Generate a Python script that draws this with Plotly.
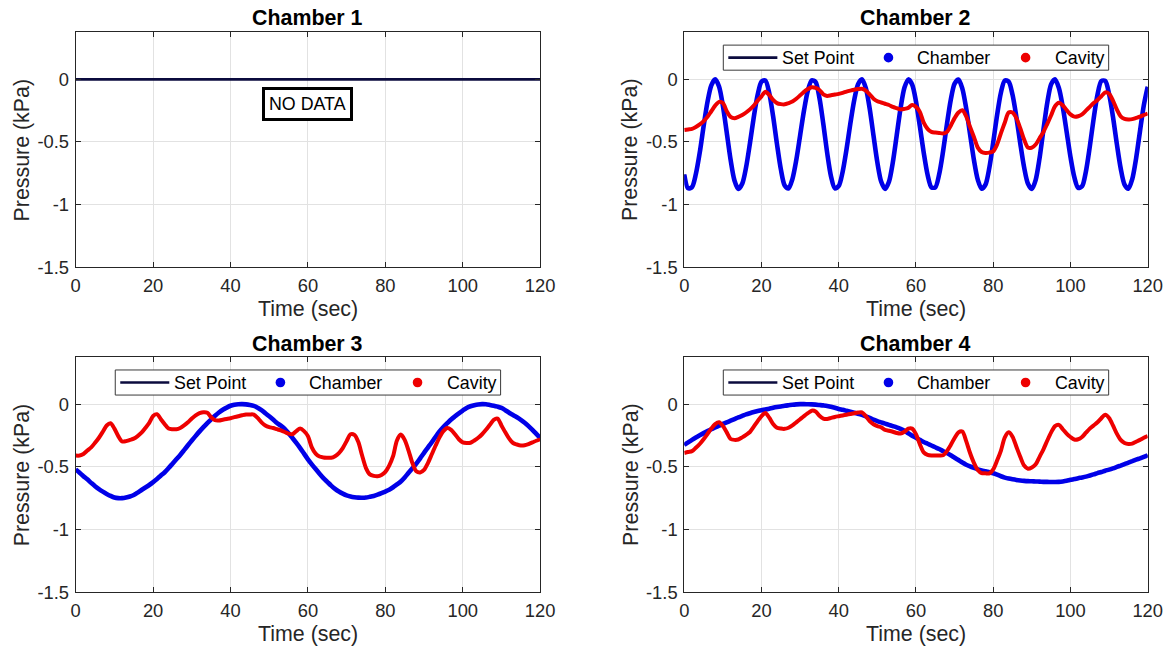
import plotly.graph_objects as go

# ---------------------------------------------------------------- data
time_s = list(range(0, 121))  # sample times, 1 s apart

ch1_time = [0, 120]
ch1_set = [0.0, 0.0]

ch2_set = [
    -0.76, -0.87, -0.86, -0.756, -0.586, -0.376, -0.182, -0.048, 0.0, -0.057,
    -0.212, -0.426, -0.643, -0.807, -0.875, -0.834, -0.703, -0.511, -0.302, -0.124,
    -0.018, -0.009, -0.109, -0.294, -0.516, -0.717, -0.847, -0.871, -0.796, -0.645,
    -0.447, -0.249, -0.091, -0.008, -0.021, -0.149, -0.356, -0.586, -0.775, -0.87,
    -0.851, -0.739, -0.561, -0.354, -0.167, -0.039, 0.0, -0.069, -0.232, -0.449,
    -0.663, -0.818, -0.875, -0.818, -0.663, -0.449, -0.232, -0.068, -0.001, -0.042,
    -0.177, -0.374, -0.585, -0.762, -0.862, -0.862, -0.758, -0.577, -0.361, -0.165,
    -0.035, -0.002, -0.074, -0.232, -0.438, -0.643, -0.801, -0.873, -0.84, -0.705,
    -0.503, -0.286, -0.105, -0.009, -0.018, -0.124, -0.302, -0.511, -0.703, -0.834,
    -0.875, -0.802, -0.629, -0.403, -0.186, -0.039, 0.0, -0.07, -0.219, -0.417,
    -0.619, -0.781, -0.867, -0.854, -0.735, -0.538, -0.315, -0.124, -0.014, -0.013,
    -0.117, -0.298, -0.514, -0.71, -0.84, -0.873, -0.796, -0.63, -0.415, -0.206,
    -0.06,
]
ch2_cavity = [
    -0.405, -0.40, -0.395, -0.38, -0.36, -0.335, -0.30, -0.255, -0.21, -0.18,
    -0.19, -0.255, -0.30, -0.31, -0.30, -0.285, -0.265, -0.24, -0.21, -0.17,
    -0.136, -0.10, -0.125, -0.165, -0.19, -0.198, -0.20, -0.19, -0.178, -0.155,
    -0.128, -0.10, -0.078, -0.063, -0.068, -0.085, -0.12, -0.133, -0.128, -0.122,
    -0.116, -0.108, -0.098, -0.09, -0.083, -0.078, -0.075, -0.09, -0.12, -0.155,
    -0.175, -0.185, -0.195, -0.205, -0.22, -0.23, -0.24, -0.236, -0.228, -0.205,
    -0.22, -0.26, -0.345, -0.395, -0.42, -0.425, -0.428, -0.432, -0.42, -0.37,
    -0.31, -0.265, -0.247, -0.295, -0.38, -0.46, -0.545, -0.58, -0.588, -0.585,
    -0.575, -0.52, -0.43, -0.345, -0.265, -0.265, -0.31, -0.39, -0.48, -0.545,
    -0.545, -0.52, -0.47, -0.42, -0.355, -0.287, -0.215, -0.188, -0.208, -0.245,
    -0.28, -0.298, -0.295, -0.28, -0.25, -0.22, -0.19, -0.165, -0.135, -0.105,
    -0.115, -0.17, -0.24, -0.295, -0.315, -0.32, -0.318, -0.308, -0.298, -0.285,
    -0.273,
]

ch3_set = [
    -0.521, -0.547, -0.575, -0.60, -0.628, -0.655, -0.678, -0.698, -0.716, -0.732,
    -0.745, -0.75, -0.75, -0.745, -0.737, -0.725, -0.706, -0.685, -0.665, -0.645,
    -0.622, -0.597, -0.57, -0.543, -0.51, -0.475, -0.44, -0.405, -0.367, -0.328,
    -0.29, -0.253, -0.217, -0.183, -0.151, -0.121, -0.093, -0.067, -0.045, -0.028,
    -0.013, -0.005, -0.001, 0.0, -0.002, -0.007, -0.014, -0.028, -0.048, -0.072,
    -0.097, -0.123, -0.15, -0.172, -0.197, -0.232, -0.27, -0.309, -0.35, -0.395,
    -0.44, -0.48, -0.518, -0.555, -0.59, -0.62, -0.65, -0.676, -0.697, -0.714,
    -0.728, -0.736, -0.742, -0.746, -0.747, -0.745, -0.739, -0.732, -0.722, -0.71,
    -0.697, -0.683, -0.663, -0.64, -0.617, -0.585, -0.548, -0.512, -0.475, -0.432,
    -0.388, -0.346, -0.304, -0.26, -0.218, -0.183, -0.152, -0.122, -0.097, -0.073,
    -0.051, -0.03, -0.017, -0.008, -0.002, 0.0, -0.001, -0.006, -0.012, -0.02,
    -0.03, -0.048, -0.068, -0.087, -0.105, -0.125, -0.148, -0.175, -0.205, -0.237,
    -0.27,
]
ch3_cavity = [
    -0.41, -0.41, -0.398, -0.37, -0.345, -0.308, -0.268, -0.22, -0.17, -0.152,
    -0.195, -0.255, -0.298, -0.295, -0.285, -0.275, -0.255, -0.228, -0.19, -0.149,
    -0.095, -0.08, -0.12, -0.16, -0.195, -0.20, -0.20, -0.19, -0.17, -0.145,
    -0.115, -0.09, -0.072, -0.064, -0.068, -0.105, -0.128, -0.13, -0.124, -0.118,
    -0.112, -0.104, -0.096, -0.088, -0.082, -0.082, -0.083, -0.11, -0.145, -0.17,
    -0.183, -0.19, -0.20, -0.21, -0.222, -0.235, -0.24, -0.215, -0.195, -0.215,
    -0.255, -0.345, -0.395, -0.418, -0.425, -0.427, -0.428, -0.415, -0.39, -0.35,
    -0.295, -0.24, -0.245, -0.30, -0.41, -0.51, -0.56, -0.572, -0.575, -0.565,
    -0.54, -0.49, -0.415, -0.29, -0.243, -0.285, -0.37, -0.47, -0.535, -0.545,
    -0.525, -0.47, -0.40, -0.33, -0.265, -0.215, -0.19, -0.205, -0.24, -0.28,
    -0.305, -0.31, -0.308, -0.29, -0.268, -0.24, -0.205, -0.165, -0.125, -0.115,
    -0.17, -0.225, -0.275, -0.31, -0.322, -0.33, -0.328, -0.318, -0.305, -0.292,
    -0.28,
]

ch4_set = [
    -0.325, -0.305, -0.285, -0.266, -0.248, -0.231, -0.215, -0.20, -0.186, -0.172,
    -0.158, -0.145, -0.132, -0.119, -0.106, -0.094, -0.082, -0.072, -0.063, -0.055,
    -0.048, -0.043, -0.036, -0.029, -0.023, -0.018, -0.013, -0.009, -0.005, -0.002,
    0.0, 0.0, -0.001, -0.002, -0.004, -0.007, -0.01, -0.014, -0.021, -0.029,
    -0.038, -0.045, -0.053, -0.061, -0.069, -0.077, -0.085, -0.097, -0.11, -0.124,
    -0.135, -0.145, -0.155, -0.165, -0.175, -0.185, -0.197, -0.212, -0.232, -0.252,
    -0.268, -0.285, -0.302, -0.316, -0.33, -0.344, -0.358, -0.374, -0.39, -0.408,
    -0.427, -0.446, -0.466, -0.483, -0.497, -0.509, -0.52, -0.529, -0.536, -0.544,
    -0.551, -0.562, -0.575, -0.586, -0.594, -0.60, -0.605, -0.609, -0.612, -0.614,
    -0.615, -0.617, -0.618, -0.62, -0.62, -0.621, -0.621, -0.62, -0.617, -0.612,
    -0.604, -0.598, -0.591, -0.585, -0.578, -0.569, -0.56, -0.55, -0.541, -0.531,
    -0.522, -0.512, -0.501, -0.49, -0.478, -0.466, -0.455, -0.443, -0.432, -0.42,
    -0.408,
]
ch4_cavity = [
    -0.39, -0.382, -0.375, -0.348, -0.318, -0.28, -0.238, -0.195, -0.16, -0.145,
    -0.175, -0.225, -0.278, -0.285, -0.282, -0.265, -0.245, -0.222, -0.18, -0.135,
    -0.095, -0.07, -0.108, -0.158, -0.188, -0.195, -0.197, -0.188, -0.17, -0.145,
    -0.12, -0.095, -0.072, -0.052, -0.058, -0.092, -0.115, -0.118, -0.11, -0.102,
    -0.096, -0.09, -0.084, -0.078, -0.072, -0.067, -0.065, -0.095, -0.135, -0.16,
    -0.175, -0.185, -0.205, -0.212, -0.22, -0.23, -0.234, -0.22, -0.196, -0.195,
    -0.24, -0.32, -0.385, -0.405, -0.41, -0.41, -0.41, -0.408, -0.375, -0.325,
    -0.27, -0.225, -0.218, -0.295, -0.39, -0.468, -0.525, -0.55, -0.552, -0.552,
    -0.52, -0.45, -0.37, -0.265, -0.225, -0.26, -0.34, -0.42, -0.49, -0.515,
    -0.505, -0.48, -0.42, -0.36, -0.29, -0.225, -0.175, -0.165, -0.20, -0.235,
    -0.262, -0.282, -0.28, -0.262, -0.228, -0.195, -0.17, -0.145, -0.112, -0.085,
    -0.11, -0.17, -0.235, -0.285, -0.31, -0.318, -0.315, -0.30, -0.285, -0.268,
    -0.254,
]

# the chamber pressure tracks its set point closely
ch2_chamber = ch2_set
ch3_chamber = ch3_set
ch4_chamber = ch4_set

titles = ["Chamber 1", "Chamber 2", "Chamber 3", "Chamber 4"]
x_ticks = [0, 20, 40, 60, 80, 100, 120]
y_ticks = [-1.5, -1, -0.5, 0]
y_tick_text = ["-1.5", "-1", "-0.5", "0"]
series_names = ["Set Point", "Chamber", "Cavity"]

# ---------------------------------------------------------------- style
W, H = 1170, 650
FONT = "Liberation Sans, Arial, Helvetica, sans-serif"
TXT = "#262626"
SET_C = "#0b0b3e"
CH_C = "#0000e8"
CAV_C = "#ee0000"

# page placement: on-screen pixel -> figure pixel
K = 0.982
OFF_X, OFF_Y = 5.35, 0.4


def fx(s):
    return (s - OFF_X) / K / W


def fy(s):
    return 1 - (s - OFF_Y) / K / H


def fs(size):
    return round(size / K, 2)


# subplot boxes in on-screen pixels: (left, right, top, bottom)
boxes = [(76, 540, 32.6, 267), (684, 1147, 32.6, 267),
         (76, 540, 356.6, 591), (684, 1147, 356.6, 591)]

fig = go.Figure()

axis_common = dict(
    showline=True, linecolor=TXT, linewidth=1, mirror="ticks",
    ticks="inside", ticklen=5, tickcolor=TXT, tickwidth=1,
    showgrid=True, gridcolor="#e2e2e2", gridwidth=1, zeroline=False,
    tickfont=dict(family=FONT, size=fs(18), color=TXT),
)

layout_axes = {}
for i, (l, r, t, b) in enumerate(boxes, start=1):
    xn = "xaxis" if i == 1 else f"xaxis{i}"
    yn = "yaxis" if i == 1 else f"yaxis{i}"
    layout_axes[xn] = dict(axis_common, domain=[fx(l), fx(r)], range=[0, 120],
                           tickvals=x_ticks, ticklabelstandoff=2,
                           anchor=f"y{'' if i == 1 else i}")
    layout_axes[yn] = dict(axis_common, domain=[fy(b), fy(t)], range=[-1.5, 0.375],
                           tickvals=y_ticks, ticktext=y_tick_text, ticklabelstandoff=2,
                           anchor=f"x{'' if i == 1 else i}")

# Chamber 1: set point only
fig.add_trace(go.Scatter(x=ch1_time, y=ch1_set, mode="lines",
                         line=dict(color=SET_C, width=2.8), showlegend=False,
                         xaxis="x", yaxis="y"))

panels = [
    (2, ch2_set, ch2_chamber, ch2_cavity),
    (3, ch3_set, ch3_chamber, ch3_cavity),
    (4, ch4_set, ch4_chamber, ch4_cavity),
]
for idx, sp, ch, cav in panels:
    xa, ya = f"x{idx}", f"y{idx}"
    fig.add_trace(go.Scatter(x=time_s, y=sp, mode="lines", name=series_names[0],
                             line=dict(color=SET_C, width=2.5, shape="spline", smoothing=0.8),
                             showlegend=False, xaxis=xa, yaxis=ya))
    fig.add_trace(go.Scatter(x=time_s, y=ch, mode="lines", name=series_names[1],
                             line=dict(color=CH_C, width=4.6, shape="spline", smoothing=0.8),
                             showlegend=False, xaxis=xa, yaxis=ya))
    fig.add_trace(go.Scatter(x=time_s, y=cav, mode="lines", name=series_names[2],
                             line=dict(color=CAV_C, width=4, shape="spline", smoothing=0.8),
                             showlegend=False, xaxis=xa, yaxis=ya))

annotations = []
shapes = []
title_y = [18, 18, 343, 343]
for (l, r, t, b), ttl, ty in zip(boxes, titles, title_y):
    cx = (l + r) / 2
    annotations.append(dict(text=f"<b>{ttl}</b>", x=fx(cx), y=fy(ty), xref="paper",
                            yref="paper", showarrow=False, xanchor="center", yanchor="middle",
                            font=dict(family=FONT, size=fs(21), color="black")))
    annotations.append(dict(text="Time (sec)", x=fx(cx), y=fy(b + 42), xref="paper",
                            yref="paper", showarrow=False, xanchor="center", yanchor="middle",
                            font=dict(family=FONT, size=fs(21), color=TXT)))
    annotations.append(dict(text="Pressure (kPa)", x=fx(l - 54), y=fy((t + b) / 2),
                            xref="paper", yref="paper", showarrow=False, textangle=-90,
                            xanchor="center", yanchor="middle",
                            font=dict(family=FONT, size=fs(21), color=TXT)))

annotations.append(dict(text="NO DATA", x=60, y=-0.2, xref="x", yref="y", showarrow=False,
                        bgcolor="white", bordercolor="black", borderwidth=3, borderpad=4,
                        font=dict(family=FONT, size=fs(17.5), color="black")))

# in-axes legend boxes (panels 2-4): line sample, then two dot samples
LEG_W, LEG_H, LEG_TOP = 385, 25, 12.8
for (l, r, t, b) in boxes[1:]:
    x0 = (l + r) / 2 - LEG_W / 2
    y0 = t + LEG_TOP
    yc = y0 + LEG_H / 2
    shapes.append(dict(type="rect", xref="paper", yref="paper",
                       x0=fx(x0), x1=fx(x0 + LEG_W), y0=fy(y0), y1=fy(y0 + LEG_H),
                       line=dict(color="#3a3a3a", width=1), fillcolor="white", layer="above"))
    shapes.append(dict(type="line", xref="paper", yref="paper",
                       x0=fx(x0 + 5), x1=fx(x0 + 54), y0=fy(yc), y1=fy(yc),
                       line=dict(color=SET_C, width=2.6), layer="above"))
    for dx, col in ((165, CH_C), (302, CAV_C)):
        shapes.append(dict(type="circle", xref="paper", yref="paper",
                           xsizemode="pixel", ysizemode="pixel",
                           xanchor=fx(x0 + dx), yanchor=fy(yc),
                           x0=-4.8, x1=4.8, y0=-4.8, y1=4.8,
                           fillcolor=col, line=dict(color=col, width=0), layer="above"))
    for dx, name in zip((57, 192, 329), series_names):
        annotations.append(dict(text=name, x=fx(x0 + dx), y=fy(yc), xref="paper",
                                yref="paper", showarrow=False, xanchor="left",
                                yanchor="middle",
                                font=dict(family=FONT, size=fs(17.5), color="black")))

fig.update_layout(
    width=W, height=H, margin=dict(l=0, r=0, t=0, b=0),
    paper_bgcolor="white", plot_bgcolor="white", showlegend=False,
    annotations=annotations, shapes=shapes, **layout_axes,
)

fig.write_html("out.html")
